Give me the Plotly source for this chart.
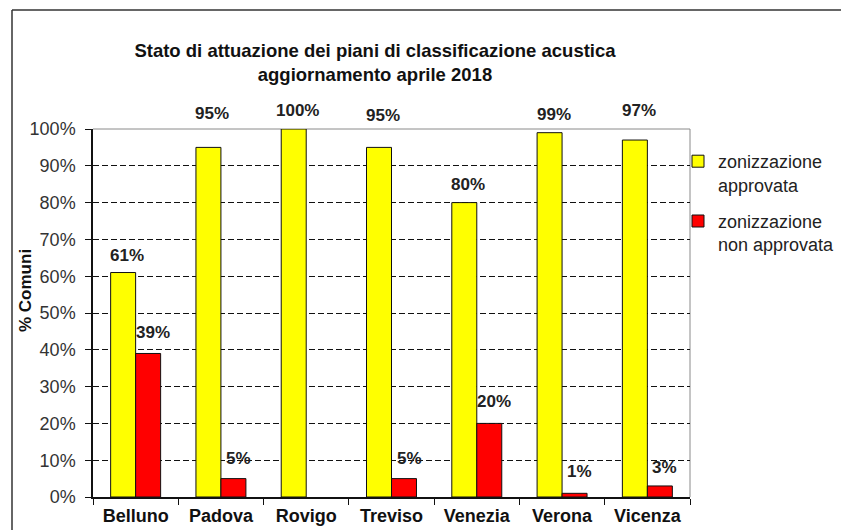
import plotly.graph_objects as go

# Data
province = ["Belluno", "Padova", "Rovigo", "Treviso", "Venezia", "Verona", "Vicenza"]
approvata = [61, 95, 100, 95, 80, 99, 97]
non_approvata = [39, 5, 0, 5, 20, 1, 3]
y_ticks = [0, 10, 20, 30, 40, 50, 60, 70, 80, 90, 100]

# Label offsets (pixels above bar top)
shift_approvata = [17, 34, 19, 32, 18, 18, 30]
shift_non_approvata = [21, 20, 0, 20, 22, 22, 18]

W, H = 841, 530
L, R, T, B = 93, 690, 129, 497  # plot area in pixels

def px_x(p):
    return (p - L) / (R - L)

def px_y(p):
    return (B - p) / (B - T)

FONT = "Liberation Sans, Arial, sans-serif"

fig = go.Figure()
fig.add_trace(go.Bar(
    x=province, y=approvata, name="zonizzazione<br>approvata",
    marker=dict(color="#FFFF00", line=dict(color="#111", width=[0 if v == 0 else 1 for v in approvata])),
    legendgroup="a",
))
fig.add_trace(go.Bar(
    x=province, y=non_approvata, name="zonizzazione<br>non approvata",
    marker=dict(color="#FF0000", line=dict(color="#111", width=[0 if v == 0 else 1 for v in non_approvata])),
    legendgroup="b",
))

annotations = []
for i, cat in enumerate(province):
    annotations.append(dict(
        x=cat, y=approvata[i], xref="x", yref="y", text=f"<b>{approvata[i]}%</b>",
        showarrow=False, xshift=-12.5 + 4, yshift=shift_approvata[i], yanchor="middle",
        font=dict(family=FONT, size=17, color="#222"),
    ))
    if non_approvata[i] > 0:
        annotations.append(dict(
            x=cat, y=non_approvata[i], xref="x", yref="y", text=f"<b>{non_approvata[i]}%</b>",
            showarrow=False, xshift=12.5 + 5, yshift=shift_non_approvata[i], yanchor="middle",
            font=dict(family=FONT, size=17, color="#222"),
        ))

annotations.append(dict(
    x=px_x(25), y=px_y(291), xref="paper", yref="paper", text="<b>% Comuni</b>",
    xanchor="center", yanchor="middle",
    textangle=-90, showarrow=False, font=dict(family=FONT, size=17, color="#111"),
))

shapes = [
    # top and right edges of the plot area
    dict(type="line", xref="paper", yref="paper", x0=0, x1=1, y0=1, y1=1,
         line=dict(color="#8a8a8a", width=1), layer="between"),
    dict(type="line", xref="paper", yref="paper", x0=1, x1=1, y0=0, y1=1,
         line=dict(color="#8a8a8a", width=1), layer="between"),
    # chart frame
    dict(type="line", xref="paper", yref="paper", x0=px_x(12), x1=px_x(841), y0=px_y(10), y1=px_y(10),
         line=dict(color="#333", width=1.5)),
    dict(type="line", xref="paper", yref="paper", x0=px_x(12), x1=px_x(12), y0=px_y(10), y1=px_y(530),
         line=dict(color="#333", width=1.5)),
]

fig.update_layout(
    width=W, height=H,
    margin=dict(l=L, r=W - R, t=T, b=H - B, autoexpand=False),
    paper_bgcolor="white", plot_bgcolor="white",
    barmode="group", bargap=0.414, bargroupgap=0,
    title=dict(
        text="<b>Stato di attuazione dei piani di classificazione acustica<br>aggiornamento aprile 2018</b>",
        x=375 / W, xanchor="center", y=1 - 57 / H, yanchor="top", xref="container", yref="container",
        font=dict(family=FONT, size=18.5, color="#111"),
    ),
    font=dict(family=FONT, color="#222"),
    legend=dict(
        x=px_x(678), y=px_y(143), xanchor="left", yanchor="top",
        font=dict(family=FONT, size=18, color="#222"),
        valign="top", tracegroupgap=10, itemwidth=30, bgcolor="rgba(0,0,0,0)",
    ),
    showlegend=True,
    annotations=annotations,
    shapes=shapes,
)

fig.update_xaxes(
    type="category", showline=True, linecolor="#111", linewidth=1.5,
    ticks="outside", tickson="boundaries", ticklen=6, tickcolor="#111",
    ticklabelstandoff=2,
    tickfont=dict(family=FONT, size=18, color="#111", weight="bold"),
    showgrid=False,
)
fig.update_yaxes(
    range=[0, 100], tickvals=y_ticks, ticktext=[f"{v}%" for v in y_ticks],
    showline=True, linecolor="#111", linewidth=1.5,
    ticks="outside", ticklen=6, tickcolor="#111", ticklabelstandoff=6,
    tickfont=dict(family=FONT, size=18, color="#333"),
    showgrid=True, gridcolor="#111", gridwidth=1, griddash="6px,3px",
    zeroline=False,
)

fig.write_html("out.html")
